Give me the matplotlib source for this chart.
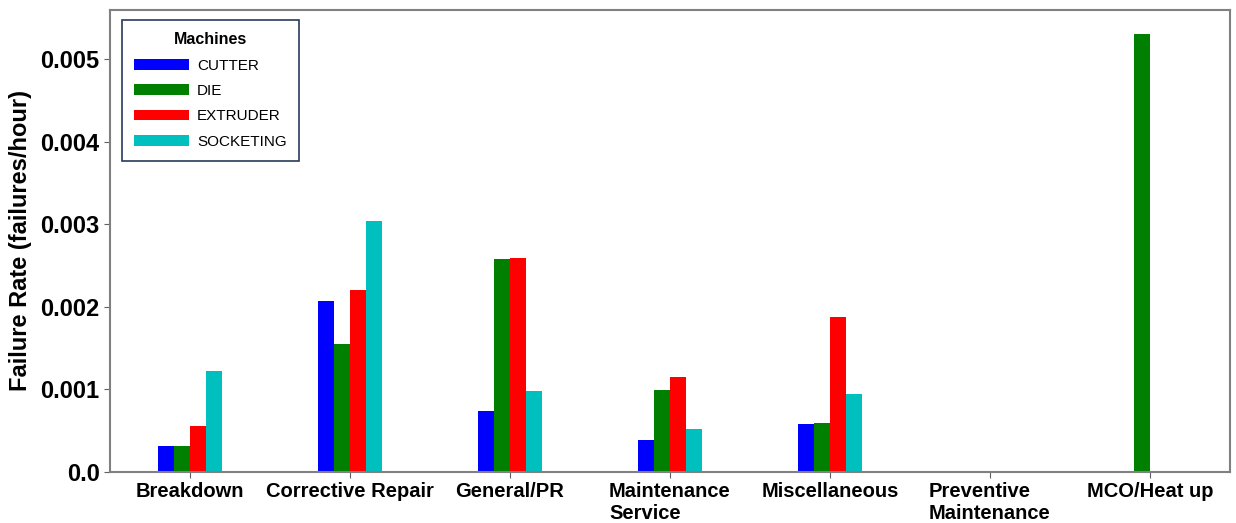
import numpy as np
import matplotlib
matplotlib.use("Agg")
import matplotlib.pyplot as plt

plt.rcParams['font.family'] = ['Liberation Sans', 'DejaVu Sans']

# Data
categories = ["Breakdown", "Corrective Repair", "General/PR", "Maintenance\nService",
              "Miscellaneous", "Preventive\nMaintenance", "MCO/Heat up"]
machines = ["CUTTER", "DIE", "EXTRUDER", "SOCKETING"]
cutter = [0.00032, 0.00207, 0.00074, 0.00039, 0.00058, 0.0, 0.0]
die = [0.00032, 0.00155, 0.00258, 0.00099, 0.00059, 0.0, 0.00531]
extruder = [0.00056, 0.00220, 0.00259, 0.00115, 0.00188, 0.0, 0.0]
socketing = [0.00123, 0.00304, 0.00098, 0.00052, 0.00095, 0.0, 0.0]
colors = ["#0000ff", "#007f00", "#ff0000", "#00bfbf"]
yticks = [0.0, 0.001, 0.002, 0.003, 0.004, 0.005]
ytick_labels = ["0.0", "0.001", "0.002", "0.003", "0.004", "0.005"]

fig = plt.figure(figsize=(12.36, 5.23), dpi=100)
ax = fig.add_axes([0.089, 0.0975, 0.906, 0.8835])

x = np.arange(len(categories))
w = 0.1
series = [cutter, die, extruder, socketing]
for i, (vals, name, c) in enumerate(zip(series, machines, colors)):
    ax.bar(x + (i - 1.5) * w, vals, width=w, color=c, label=name, linewidth=0)

ax.set_xlim(-0.5, len(categories) - 0.5)
ax.set_ylim(0, 0.0056)
ax.set_xticks(x)
ax.set_xticklabels(categories, fontsize=14.5, fontweight='bold', multialignment='left')
ax.set_yticks(yticks)
ax.set_yticklabels(ytick_labels, fontsize=17, fontweight='bold')
ax.set_ylabel("Failure Rate (failures/hour)", fontsize=17, fontweight='bold', labelpad=6)

for s in ax.spines.values():
    s.set_color("#808080")
    s.set_linewidth(1.5)
ax.tick_params(axis='both', color="#606060", length=4)

leg = ax.legend(title="Machines", loc='upper left', bbox_to_anchor=(0.004, 0.995),
                fontsize=11, title_fontsize=11.5, handlelength=3.6, handleheight=0.7,
                handletextpad=0.5, labelspacing=0.75, fancybox=False, framealpha=1,
                borderpad=0.8)
leg.get_title().set_fontweight('bold')
leg.get_frame().set_edgecolor("#2a3a5a")
leg.get_frame().set_linewidth(1.2)

fig.savefig("out.png", dpi=100)
